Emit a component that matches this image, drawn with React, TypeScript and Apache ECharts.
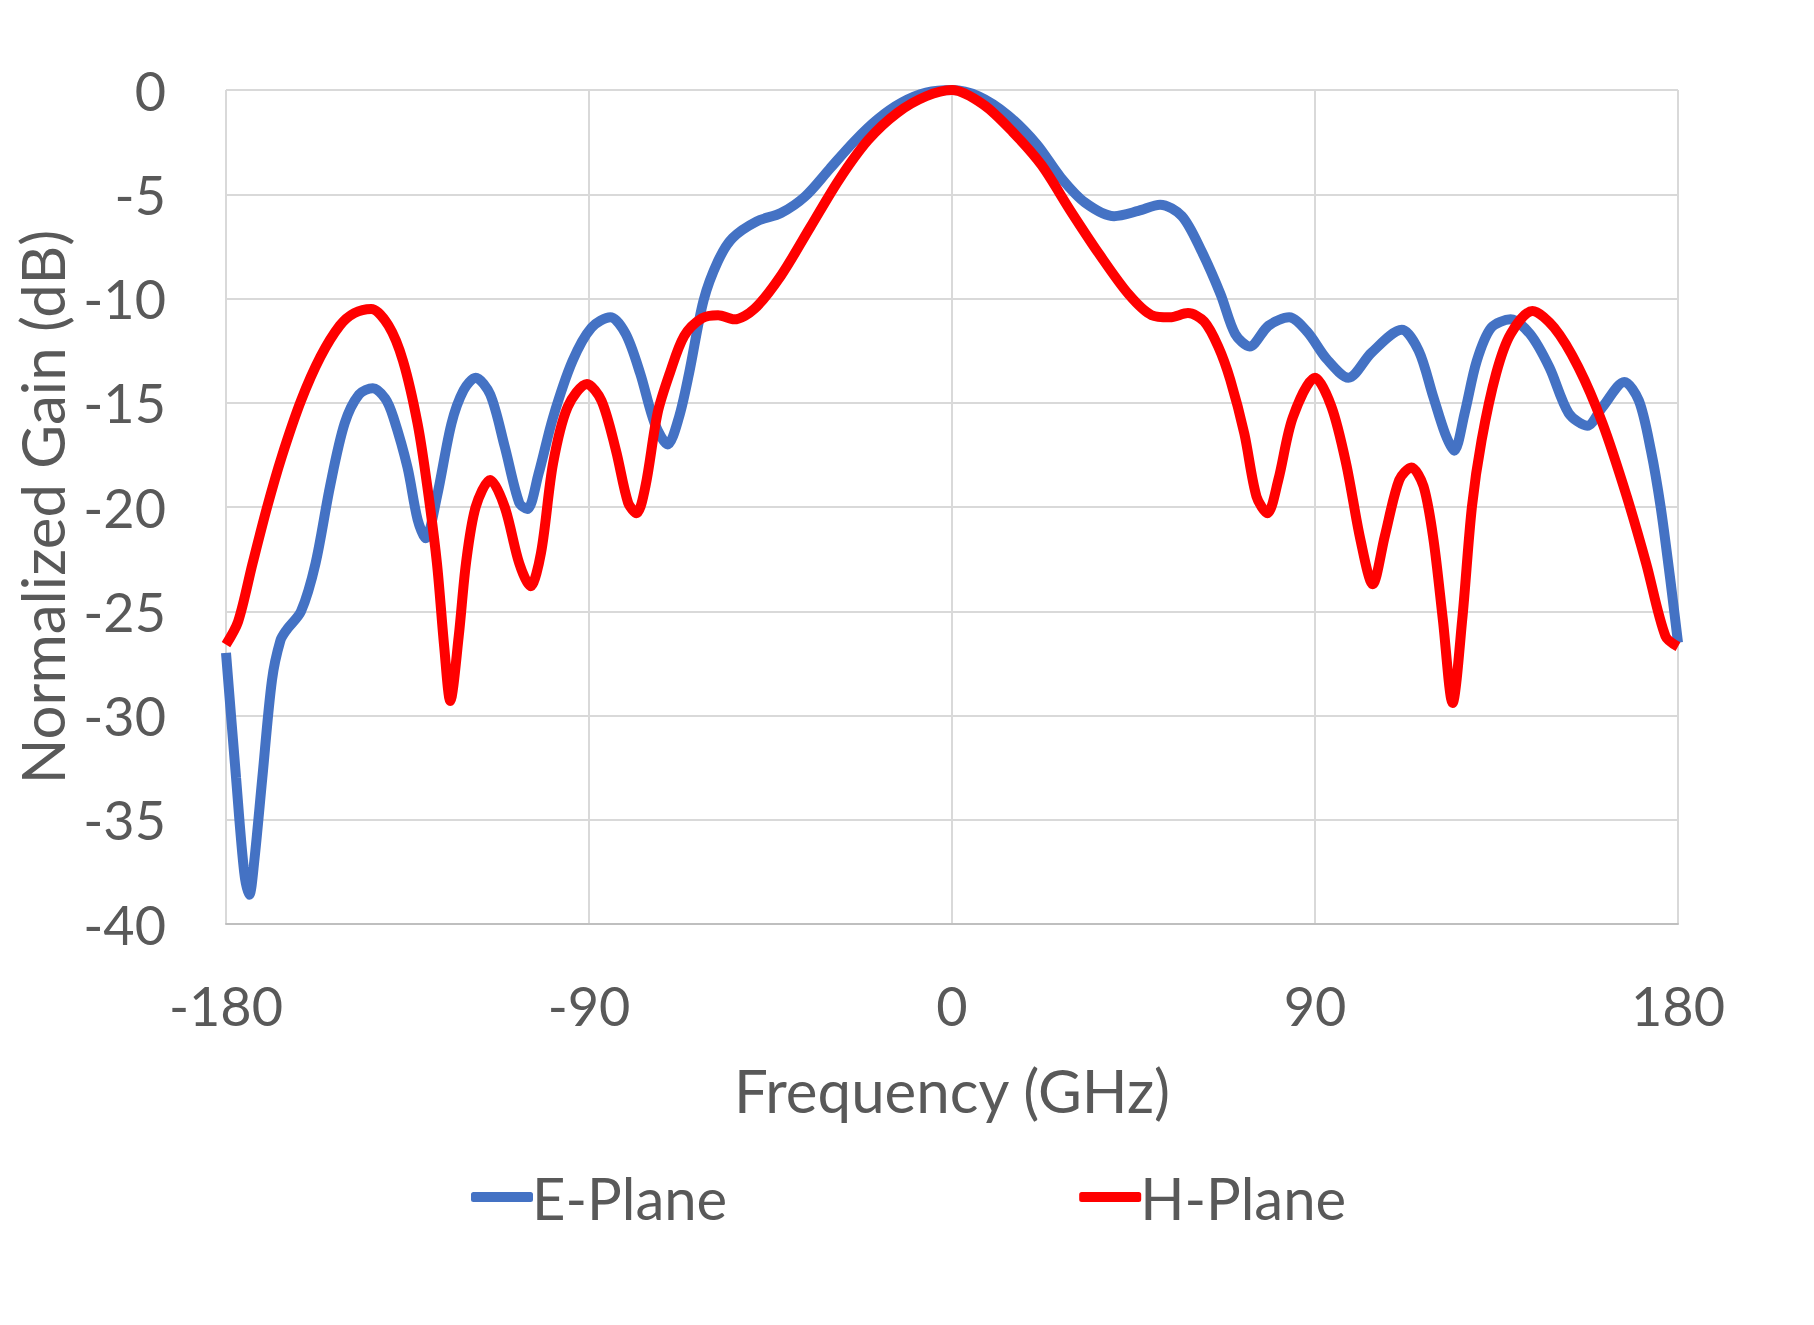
import React, { useEffect, useRef } from "react";
import * as echarts from "echarts";

const xTicks = [-180, -90, 0, 90, 180];
const yTicks = [0, -5, -10, -15, -20, -25, -30, -35, -40];

const eAngles = [
  -180, -177.5, -175.5, -174.2, -173, -171, -168.6, -166.5, -165, -161.4, -157.8, -154.2,
  -150.6, -147, -143.6, -140.5, -138.5, -135, -132.5, -130.5, -127.7, -124.1, -121.1,
  -118.1, -114.5, -110.9, -107.3, -105.3, -102.5, -98.9, -94.1, -89.4, -84.7, -80.9,
  -77.3, -73.7, -70.5, -67.7, -65.2, -61.6, -58, -54.4, -48.4, -42.4, -36.4, -30.4,
  -24.4, -18.4, -12.4, -6.4, 0, 6.6, 13.8, 21, 27, 33, 40.2, 46.2, 51.6, 57, 61.8,
  66.6, 70.2, 73.8, 78.5, 83.6, 88.1, 92.9, 98.3, 104, 111.5, 115.7, 119.3, 122.3,
  124.5, 127.1, 130.1, 133.7, 138.5, 143.3, 148.1, 152.9, 157.5, 161.3, 166.7, 170.3,
  173.3, 175.7, 178.1, 180,
];
const eGain = [
  -27, -33, -37.5, -38.6, -37, -33, -28.3, -26.4, -25.9, -25, -22.7, -19,
  -16, -14.6, -14.3, -14.8, -15.7, -18.1, -20.6, -21.5, -19.5, -16, -14.4,
  -13.8, -14.6, -17.1, -19.8, -20.1, -18.4, -15.7, -13, -11.4, -10.9, -11.7,
  -13.6, -16, -17, -15.7, -13.6, -10.1, -8.2, -7.1, -6.3, -5.9, -5.1, -3.8,
  -2.5, -1.4, -0.6, -0.13, 0, -0.3, -1.2, -2.6, -4.2, -5.4, -6.05, -5.8, -5.5, -6.05, -7.7,
  -9.8, -11.7, -12.3, -11.3, -10.9, -11.6, -12.9, -13.8, -12.6, -11.5, -12.5, -14.7, -16.5,
  -17.3, -15.5, -13, -11.4, -11.0, -11.7, -13.3, -15.5, -16.1, -15.2, -14.0, -14.9,
  -17.3, -20, -23.5, -26.5,
];

const hAngles = [
  -180, -177, -173.4, -169.8, -166.2, -161.4, -156.6, -151.8, -148.2, -144, -139.7, -136.1,
  -132.5, -130.1, -127.7, -125.9, -124.4, -122.3, -120.5, -118.1, -114.5, -110.9, -107.3,
  -104.5, -101.9, -98.9, -95.3, -90.5, -86.9, -83.3, -80.3, -78.2, -76, -73, -70, -66.4,
  -62, -58, -54, -49, -42.4, -35.2, -28, -20.8, -13.6, -6.4, 0, 7.8, 15, 22.2,
  29.4, 36.6, 43.8, 49.5, 54, 58.5, 62.5, 66, 69, 72.5, 75.5, 78.2, 80.9, 84.5, 90, 94.1,
  97.7, 101.3, 104.3, 107.3, 110.9, 113.9, 116.9, 119.4, 121.7, 124.1, 126.5, 128.9,
  131.3, 134.9, 138.5, 143.9, 149.3, 155.3, 161.3, 167.3, 172.1, 176.9, 180,
];
const hGain = [
  -26.6, -25.5, -22.7, -20, -17.6, -14.9, -12.8, -11.3, -10.7, -10.5, -11.3, -13,
  -16, -19, -22.7, -26.7, -29.3, -26.2, -22.7, -20, -18.7, -20, -22.7,
  -23.8, -22.2, -17.9, -15.2, -14.1, -14.9, -17.3, -19.8, -20.3, -19, -15.5, -13.6, -11.8,
  -10.95, -10.8, -11.0, -10.5, -8.9, -6.6, -4.3, -2.4, -1.1, -0.3, 0, -0.7, -2, -3.6,
  -5.8, -7.9, -9.8, -10.8, -10.9, -10.7, -11.1, -12.3, -13.9, -16.5, -19.5, -20.3, -18.7, -15.7, -13.8, -15.2,
  -17.9, -21.6, -23.7, -21.4, -18.7, -18.1, -19, -21.6, -25.4, -29.4, -25.4, -20,
  -16.8, -13.6, -11.7, -10.6, -11.4, -13.3, -16, -19.5, -22.7, -26.2, -26.7,
];

const seriesNames = ["E-Plane", "H-Plane"];
const seriesColors = ["#4472C4", "#FF0000"];

const FONT = "Lato";
const TEXT = "#595959";

export default function App() {
  const ref = useRef<HTMLDivElement>(null);
  useEffect(() => {
    if (!ref.current) return;
    const chart = echarts.init(ref.current, null, { renderer: "svg" });
    const pair = (xs: number[], ys: number[]) => xs.map((x, i) => [x, ys[i]]);
    chart.setOption({
      animation: false,
      backgroundColor: "#ffffff",
      textStyle: { fontFamily: FONT, color: TEXT },
      grid: { left: 226, right: 136, top: 90, bottom: 401, containLabel: false },
      legend: {
        data: seriesNames,
        left: 466,
        top: 1163,
        icon: "roundRect",
        itemWidth: 62,
        itemHeight: 10,
        itemGap: 352,
        textStyle: { fontFamily: FONT, fontSize: 58, color: TEXT, padding: [0, 0, 0, -6] },
      },
      xAxis: {
        type: "value",
        min: -180,
        max: 180,
        interval: 90,
        name: "Frequency (GHz)",
        nameLocation: "middle",
        nameGap: 136,
        nameTextStyle: { fontFamily: FONT, fontSize: 60, color: TEXT },
        axisLine: { show: true, onZero: false, lineStyle: { color: "#BFBFBF", width: 2 } },
        axisTick: { show: false },
        axisLabel: {
          margin: 54,
          fontFamily: FONT,
          fontSize: 54,
          color: TEXT,
          formatter: (v: number) => (xTicks.includes(v) ? String(v) : ""),
        },
        splitLine: { show: true, lineStyle: { color: "#D9D9D9", width: 2 } },
      },
      yAxis: {
        type: "value",
        min: -40,
        max: 0,
        interval: 5,
        name: "Normalized Gain (dB)",
        nameLocation: "middle",
        nameGap: 150,
        nameRotate: 90,
        nameTextStyle: { fontFamily: FONT, fontSize: 60, color: TEXT },
        axisLine: { show: true, lineStyle: { color: "#D9D9D9", width: 2 } },
        axisTick: { show: false },
        axisLabel: {
          margin: 60,
          fontFamily: FONT,
          fontSize: 54,
          color: TEXT,
          formatter: (v: number) => (yTicks.includes(v) ? String(v) : ""),
        },
        splitLine: { show: true, lineStyle: { color: "#D9D9D9", width: 2 } },
      },
      series: [
        {
          name: seriesNames[0],
          type: "line",
          data: pair(eAngles, eGain),
          smooth: 0.3,
          showSymbol: false,
          lineStyle: { color: seriesColors[0], width: 10 },
          itemStyle: { color: seriesColors[0] },
          z: 2,
        },
        {
          name: seriesNames[1],
          type: "line",
          data: pair(hAngles, hGain),
          smooth: 0.3,
          showSymbol: false,
          lineStyle: { color: seriesColors[1], width: 10 },
          itemStyle: { color: seriesColors[1] },
          z: 3,
        },
      ],
    });
    return () => chart.dispose();
  }, []);
  return (
    <div
      ref={ref}
      style={{ position: "fixed", left: 0, top: 0, width: 1814, height: 1325, background: "#fff" }}
    />
  );
}
